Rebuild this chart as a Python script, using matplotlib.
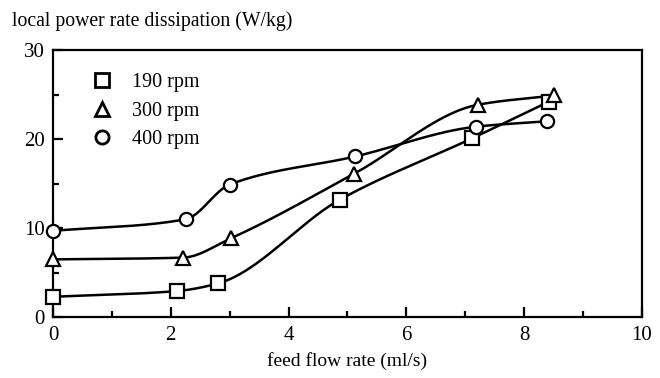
import numpy as np
import matplotlib
matplotlib.use('Agg')
import matplotlib.pyplot as plt
from matplotlib.lines import Line2D
from matplotlib.ticker import MultipleLocator

plt.rcParams['font.family'] = ['Liberation Serif', 'DejaVu Serif']

# data
labels = ['190 rpm', '300 rpm', '400 rpm']
markers = ['s', '^', 'o']

x_190 = [0.0, 2.11, 2.80, 4.87, 7.12, 8.42]
y_190 = [2.3, 2.95, 3.8, 13.2, 20.1, 24.2]

x_300 = [0.0, 2.21, 3.03, 5.11, 7.21, 8.51]
y_300 = [6.5, 6.7, 8.9, 16.1, 23.85, 24.9]

x_400 = [0.0, 2.25, 3.0, 5.13, 7.19, 8.39]
y_400 = [9.7, 11.0, 14.9, 18.05, 21.4, 22.0]

series = [(x_190, y_190), (x_300, y_300), (x_400, y_400)]


# monotone cubic curve through the points (only for drawing the smooth line)
def pchip_curve(x, y, n=300):
    x = np.asarray(x, float)
    y = np.asarray(y, float)
    h = np.diff(x)
    d = np.diff(y) / h
    m = np.zeros_like(y)
    m[0], m[-1] = d[0], d[-1]
    for k in range(1, len(x) - 1):
        if d[k - 1] * d[k] > 0:
            w1 = 2 * h[k] + h[k - 1]
            w2 = h[k] + 2 * h[k - 1]
            m[k] = (w1 + w2) / (w1 / d[k - 1] + w2 / d[k])
    xs = np.linspace(x[0], x[-1], n)
    idx = np.clip(np.searchsorted(x, xs) - 1, 0, len(x) - 2)
    t = (xs - x[idx]) / h[idx]
    h00 = 2 * t**3 - 3 * t**2 + 1
    h10 = t**3 - 2 * t**2 + t
    h01 = -2 * t**3 + 3 * t**2
    h11 = t**3 - t**2
    ys = h00 * y[idx] + h10 * h[idx] * m[idx] + h01 * y[idx + 1] + h11 * h[idx] * m[idx + 1]
    return xs, ys


fig = plt.figure(figsize=(6.6, 3.78), dpi=100)
ax = fig.add_axes([0.0803, 0.1606, 0.8924, 0.7071])

handles = []
for (xv, yv), mk, lab in zip(series, markers, labels):
    xs, ys = pchip_curve(xv, yv)
    ax.plot(xs, ys, color='black', lw=1.8, zorder=2)
    ax.plot(xv, yv, linestyle='none', marker=mk, markersize=9.5 if mk != 's' else 10,
            markerfacecolor='white', markeredgecolor='black', markeredgewidth=1.6,
            zorder=3, clip_on=False)
    handles.append(Line2D([], [], linestyle='none', marker=mk, markersize=9.5,
                          markerfacecolor='white', markeredgecolor='black',
                          markeredgewidth=2.0, label=lab))

ax.set_xlim(0, 10)
ax.set_ylim(0, 30)
ax.xaxis.set_major_locator(MultipleLocator(2))
ax.xaxis.set_minor_locator(MultipleLocator(1))
ax.yaxis.set_major_locator(MultipleLocator(10))
ax.yaxis.set_minor_locator(MultipleLocator(5))
ax.tick_params(which='both', direction='in', top=False, right=False,
               labelsize=15, width=1.6, pad=6)
ax.tick_params(which='major', length=7)
ax.tick_params(which='minor', length=4)
for s in ax.spines.values():
    s.set_linewidth(1.6)

ax.set_xlabel('feed flow rate (ml/s)', fontsize=14, labelpad=5)
fig.text(0.018, 0.945, 'local power rate dissipation (W/kg)', fontsize=14.2,
         ha='left', va='center')

ax.legend(handles=handles, loc='upper left', bbox_to_anchor=(0.052, 0.944),
          frameon=False, fontsize=14.5, handlelength=1.0, handletextpad=1.0,
          labelspacing=0.47, borderaxespad=0.0)

fig.savefig('out.png', dpi=100)
